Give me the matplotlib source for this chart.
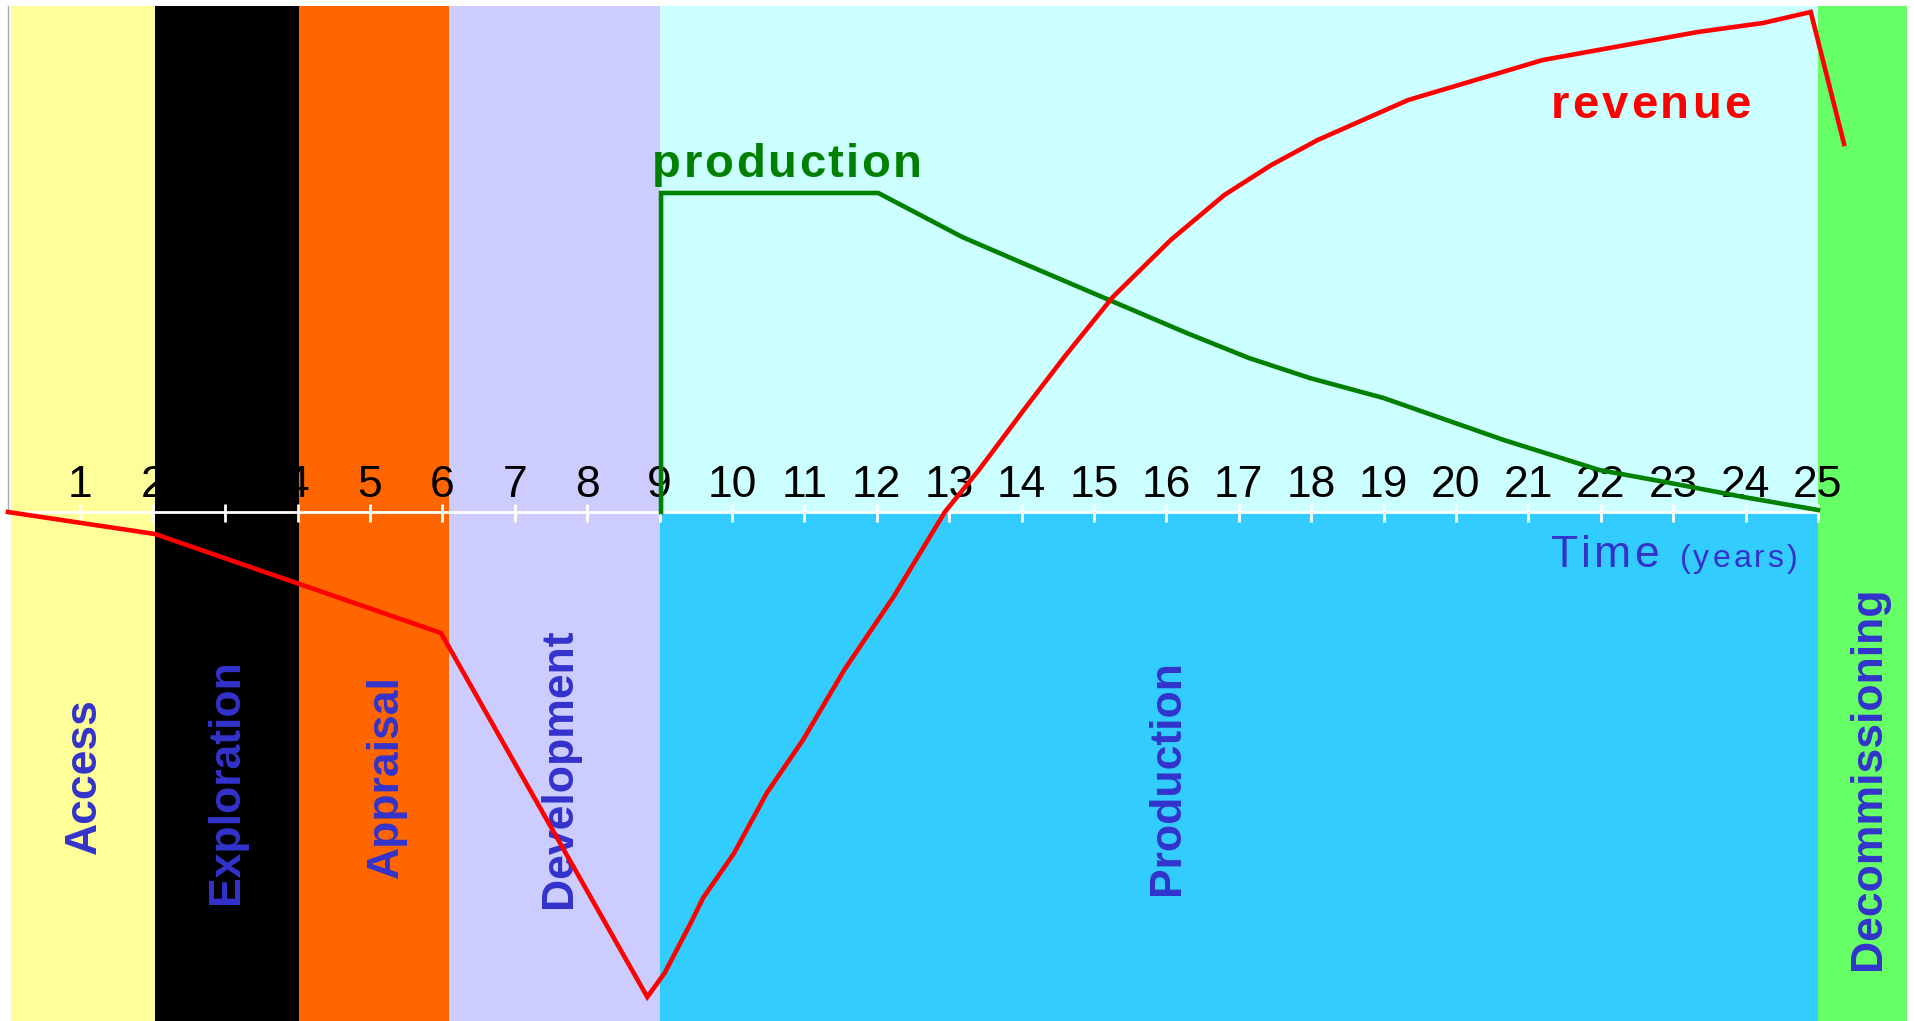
import matplotlib
matplotlib.use('Agg')
import matplotlib.pyplot as plt
from matplotlib import font_manager
from matplotlib.font_manager import FontProperties
from matplotlib.ft2font import FT2Font
from matplotlib.transforms import offset_copy

# phases (years)
phase_names = ['Access', 'Exploration', 'Appraisal', 'Development', 'Production', 'Decommissioning']
phase_start = [0.04, 2.03, 4.02, 6.09, 9.0, 25.0]
phase_end = [2.03, 4.02, 6.09, 9.0, 25.0, 26.23]
phase_col_top = ['#FFFF99', '#000000', '#FF6600', '#CCCCFF', '#CCFFFF', '#66FF66']
phase_col_bot = ['#FFFF99', '#000000', '#FF6600', '#CCCCFF', '#33CCFF', '#66FF66']

# revenue curve
rev_year = [0.0, 2.03, 5.98, 8.83, 9.07, 9.43, 9.60, 10.03, 10.48, 10.98, 11.55, 12.23,
            12.94, 13.41, 14.03, 14.59, 15.26, 16.06, 16.80, 17.45, 18.09, 19.34, 21.20,
            23.34, 24.24, 24.90, 25.36]
rev_val = [0.0, -0.22, -1.21, -4.85, -4.61, -4.11, -3.86, -3.41, -2.81, -2.28, -1.58, -0.85,
           0.0, 0.42, 1.02, 1.55, 2.15, 2.72, 3.17, 3.47, 3.72, 4.12, 4.52,
           4.80, 4.89, 5.00, 3.68]

# production curve
prod_year = [9.02, 9.02, 12.02, 13.18, 13.98, 15.21, 16.28, 17.14, 17.98, 19.0, 20.66,
             21.98, 22.96, 23.97, 25.0]
prod_val = [0.0, 3.19, 3.19, 2.75, 2.50, 2.12, 1.79, 1.54, 1.34, 1.14, 0.72,
            0.42, 0.29, 0.15, 0.02]

years = list(range(1, 26))

# label layout
label_x = [1.05, 3.02, 5.23, 7.62, 16.02, 25.70]
label_y = [-2.64, -2.70, -2.65, -2.56, -2.66, -2.66]
label_size = [32, 32, 32, 32, 32, 32]

DPI = 100
fig = plt.figure(figsize=(19.15, 10.21), dpi=DPI)
ax = fig.add_axes([0, 0, 1, 1])
ax.set_xlim(-0.1105, 26.34)
ax.set_ylim(-5.09, 5.12)
ax.axis('off')

TXT = '#3333CC'
FAM = 'Liberation Sans'

# coloured bands
widths = [e - s for s, e in zip(phase_start, phase_end)]
ax.bar(phase_start, 5.06, width=widths, bottom=0, align='edge', color=phase_col_top, lw=0, zorder=0)
ax.bar(phase_start, -5.5, width=widths, bottom=0, align='edge', color=phase_col_bot, lw=0, zorder=0)

# time axis
ax.plot([0, 0], [0, 5.06], color='#AAAAAA', lw=1, zorder=2)
ax.plot([0, 25], [0, 0], color='white', lw=2, zorder=2)
ax.vlines(years, -0.10, 0.08, color='white', lw=2, zorder=2)
for yr in years:
    ax.text(yr, 0.15, str(yr), ha='center', va='baseline', fontsize=32,
            family=FAM, color='black', zorder=3)

# phase labels
for name, x, y, s in zip(phase_names, label_x, label_y, label_size):
    ax.text(x, y, name, rotation=90, ha='center', va='center', fontsize=s,
            family=FAM, weight='bold', color=TXT, zorder=3)


def spaced(x, y, s, gap, size, weight, color):
    # draw text with extra letter spacing (gap in px)
    fp = FontProperties(family=FAM, weight=weight, size=size)
    font = FT2Font(font_manager.findfont(fp))
    font.set_size(size, DPI)
    dx = 0.0
    for ch in s:
        tr = offset_copy(ax.transData, fig=fig, x=dx, y=0, units='dots')
        ax.text(x, y, ch, transform=tr, ha='left', va='baseline', fontproperties=fp,
                color=color, zorder=3)
        dx += font.load_char(ord(ch)).linearHoriAdvance / 65536 + gap


spaced(8.9, 3.35, 'production', 2.5, 34, 'bold', '#008000')
spaced(21.31, 3.94, 'revenue', 3, 34, 'bold', '#FF0000')
spaced(21.31, -0.55, 'Time', 3, 32, 'normal', TXT)
spaced(23.09, -0.55, '(years)', 3, 23, 'normal', TXT)

# curves
ax.plot(prod_year, prod_val, color='#008000', lw=3.3, solid_joinstyle='miter', zorder=4)
ax.plot(rev_year, rev_val, color='#FF0000', lw=3.3, solid_joinstyle='miter', zorder=4)

plt.savefig('out.png', dpi=DPI)
